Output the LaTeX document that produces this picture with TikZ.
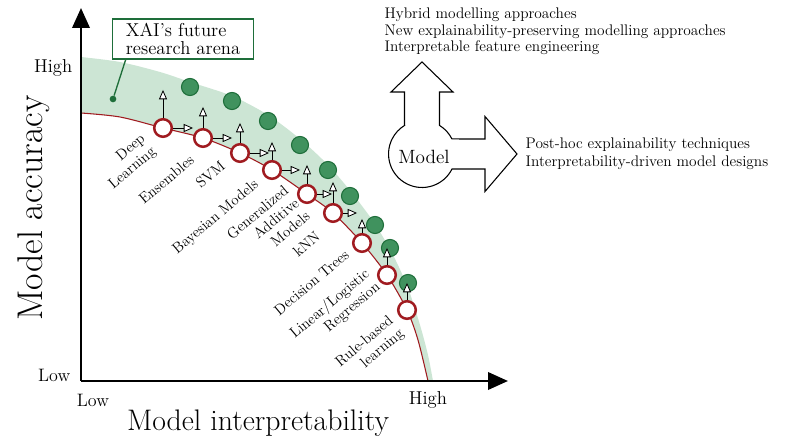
\documentclass[tikz,border=0pt]{standalone}
\usepackage{fontspec}
\usetikzlibrary{arrows.meta}
\definecolor{darkred}{RGB}{160,27,32}
\definecolor{bandgreen}{RGB}{204,229,212}
\definecolor{dotgreen}{RGB}{64,146,94}
\definecolor{edgegreen}{RGB}{30,110,58}
\begin{document}
\begin{tikzpicture}[x=0.75pt,y=0.75pt,
  redc/.style={circle,draw=darkred,fill=white,line width=1.9pt,minimum size=13.2pt,inner sep=0pt},
  greenc/.style={circle,draw=edgegreen,fill=dotgreen,line width=0.8pt,minimum size=12.8pt,inner sep=0pt},
  lbl/.style={rotate=40,anchor=east,align=right,inner sep=1pt,font=\fontsize{11.2}{12.5}\selectfont},
  openarrow/.style={-{Triangle[fill=white,length=7pt,width=6pt]},line width=0.6pt},
  axis/.style={line width=2pt,-{Triangle[length=15pt,width=13pt]}}]
\useasboundingbox (0,0) rectangle (800,446);
\fill[bandgreen] plot[smooth] coordinates {(81,389) (120,384) (160,374) (190,364) (232,350) (268,331) (300,307) (328,281) (352,253) (375,222) (393,191) (408,158) (420,121) (428,91) (433,65)}
  -- plot[smooth] coordinates {(428,65) (418,106) (407,136) (387,171) (362,203) (333,233) (307,252) (272,276) (240,293) (203,308) (163,318) (120,329) (81,333)} -- cycle;
\draw[darkred,line width=0.8pt] plot[smooth] coordinates {(81,333) (120,329) (163,318) (203,308) (240,293) (272,276) (307,252) (333,233) (362,203) (387,171) (407,136) (418,106) (428,65)};
\coordinate (origin) at (81,65);
\coordinate (ytop) at (81,438);
\coordinate (xend) at (508,65);
\draw[axis] (origin) -- (ytop);
\draw[axis] (origin) -- (xend);
\node[anchor=east,font=\fontsize{14}{16}\selectfont] (yhigh) at (77,378) {High};
\node[anchor=east,font=\fontsize{13.5}{16}\selectfont] (ylow) at (75,71) {Low};
\node[font=\fontsize{13.5}{16}\selectfont] (xlow) at (93,46) {Low};
\node[font=\fontsize{14}{16}\selectfont] (xhigh) at (428,46) {High};
\node[font=\fontsize{22.3}{26}\selectfont] (xtitle) at (258,23) {Model interpretability};
\node[rotate=90,font=\fontsize{26.8}{30}\selectfont] (ytitle) at (34,238) {Model accuracy};
\node[draw=edgegreen,line width=1pt,align=left,minimum width=106pt,minimum height=30pt,inner sep=3pt,font=\fontsize{14}{13}\selectfont] (arena) at (183,407) {XAI's future\\research arena};
\node[circle,fill=edgegreen,inner sep=0pt,minimum size=5pt] (dot) at (113,347) {};
\draw[edgegreen,line width=1pt] (dot) -- ([xshift=10.5pt]arena.south west);
\node[greenc] (g1) at (190,359) {};
\node[greenc] (g2) at (232,345) {};
\node[greenc] (g3) at (268,325) {};
\node[greenc] (g4) at (300,301) {};
\node[greenc] (g5) at (328,276) {};
\node[greenc] (g6) at (350,250) {};
\node[greenc] (g7) at (375,221) {};
\node[greenc] (g8) at (390,198) {};
\node[greenc] (g9) at (408,163) {};
\node[redc] (r1) at (163,318) {};
\node[redc] (r2) at (203,308) {};
\node[redc] (r3) at (240,293) {};
\node[redc] (r4) at (272,276) {};
\node[redc] (r5) at (307,252) {};
\node[redc] (r6) at (333,233) {};
\node[redc] (r7) at (362,203) {};
\node[redc] (r8) at (387,171) {};
\node[redc] (r9) at (407,136) {};
\draw[openarrow] (r1.north) -- ++(0,28);
\draw[openarrow] (r2.north) -- ++(0,21);
\draw[openarrow] (r3.north) -- ++(0,20);
\draw[openarrow] (r4.north) -- ++(0,18);
\draw[openarrow] (r5.north) -- ++(0,19);
\draw[openarrow] (r6.north) -- ++(0,21);
\draw[openarrow] (r7.north) -- ++(0,14);
\draw[openarrow] (r8.north) -- ++(0,17);
\draw[openarrow] (r9.north) -- ++(0,17);
\draw[openarrow] (r1.east) -- ++(20,0);
\draw[openarrow] (r2.east) -- ++(19,0);
\draw[openarrow] (r3.east) -- ++(19,0);
\draw[openarrow] (r4.east) -- ++(18,0);
\draw[openarrow] (r5.east) -- ++(15,0);
\draw[openarrow] (r6.east) -- ++(14,0);
\node[lbl] (dl) at (150,303) {Deep\\Learning};
\node[lbl] (ens) at (193,289) {Ensembles};
\node[lbl] (svm) at (224,283) {SVM};
\node[lbl] (bay) at (258,264) {Bayesian Models};
\node[lbl] (gam) at (298,246) {Generalized\\Additive\\Models};
\node[lbl] (knn) at (319,213) {kNN};
\node[lbl] (dt) at (348,194) {Decision Trees};
\node[lbl] (llr) at (374,168) {Linear/Logistic\\Regression};
\node[lbl] (rbl) at (398,121) {Rule-based\\learning};
\draw[line width=0.8pt] (404.5,320.6) -- (404.5,354) -- (391,354) -- (422,384) -- (453,354) -- (439.5,354) -- (439.5,320.6)
  arc[start angle=58.5,end angle=26.6,radius=33.5] -- (485,307) -- (485,329.5) -- (517,292) -- (485,254.5) -- (485,277) -- (452,277)
  arc[start angle=-26.6,end angle=-238.5,radius=33.5] -- cycle;
\node[font=\fontsize{14.4}{16}\selectfont] (model) at (424,289) {Model};
\node[anchor=west,align=left,font=\fontsize{11.5}{12.5}\selectfont] (future) at (380,414.5) {Hybrid modelling approaches\\New explainability-preserving modelling approaches\\Interpretable feature engineering};
\node[anchor=west,align=left,font=\fontsize{11.5}{13.5}\selectfont] (posthoc) at (521,292) {Post-hoc explainability techniques\\Interpretability-driven model designs};
\end{tikzpicture}
\end{document}
